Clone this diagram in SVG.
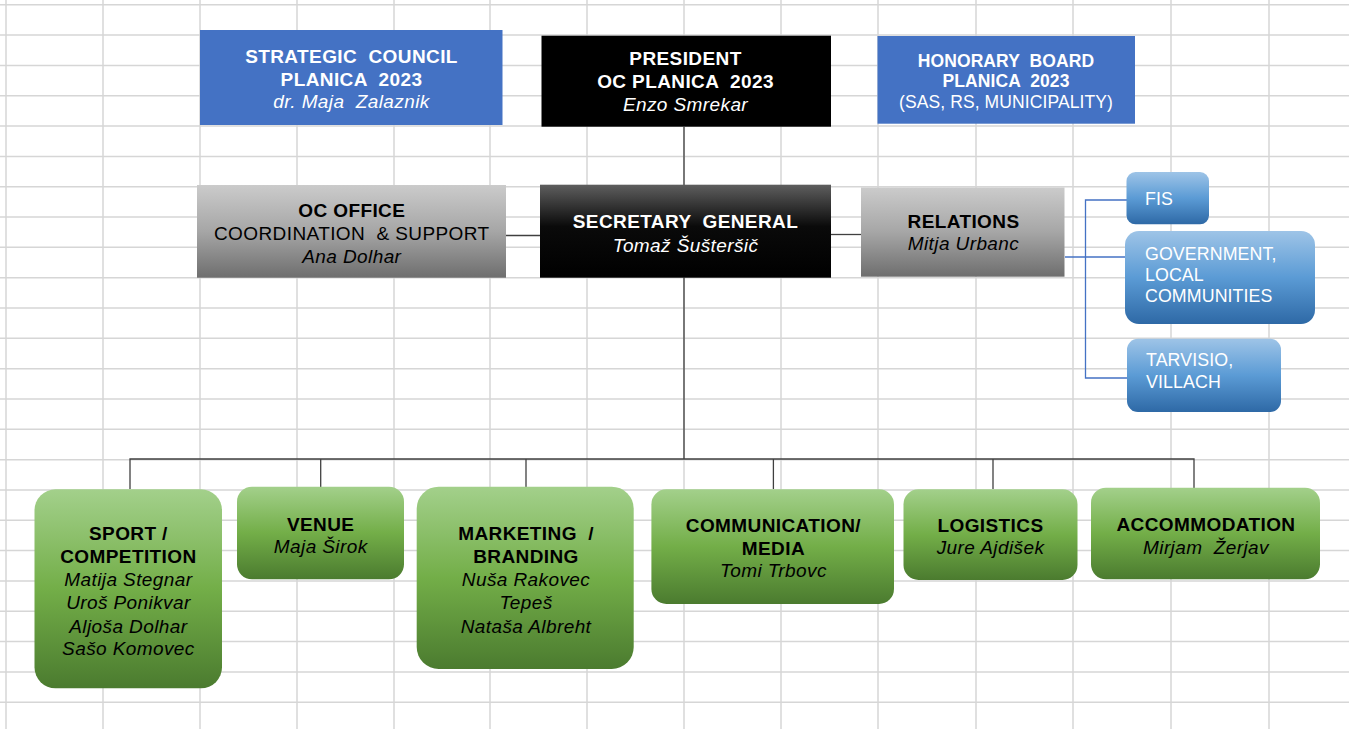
<svg xmlns="http://www.w3.org/2000/svg" width="1349" height="729" viewBox="0 0 1349 729">
<style>
text{font-family:"Liberation Sans",Arial,sans-serif;font-size:19px;white-space:pre;letter-spacing:0.4px;}
.c{text-anchor:middle;}
.b{font-weight:bold;}
.i{font-style:italic;}
.w{fill:#ffffff;}
.k{fill:#000000;}
.sm{font-size:17.5px;letter-spacing:0.1px;}
.bl{font-size:17.8px;fill:#ffffff;letter-spacing:0.1px;}
.grid line{stroke:#d6d6d6;stroke-width:1.5;}
.conn{fill:none;stroke:#404040;stroke-width:1.3;}
.rel{fill:none;stroke:#4472c4;stroke-width:1.3;}
</style>
<defs>
<linearGradient id="gGreen" x1="0" y1="0" x2="0" y2="1">
<stop offset="0" stop-color="#a3d08b"/>
<stop offset="0.5" stop-color="#73ae48"/>
<stop offset="1" stop-color="#4b7b2f"/>
</linearGradient>
<linearGradient id="gBlue" x1="0" y1="0" x2="0" y2="1">
<stop offset="0" stop-color="#9ec4e7"/>
<stop offset="0.5" stop-color="#5b9bd5"/>
<stop offset="1" stop-color="#2e69a6"/>
</linearGradient>
<linearGradient id="gGray" x1="0" y1="0" x2="0" y2="1">
<stop offset="0" stop-color="#cbcbcb"/>
<stop offset="0.5" stop-color="#a6a6a6"/>
<stop offset="1" stop-color="#6e6e6e"/>
</linearGradient>
<linearGradient id="gBlack" x1="0" y1="0" x2="0" y2="1">
<stop offset="0" stop-color="#5e5e5e"/>
<stop offset="0.45" stop-color="#0a0a0a"/>
<stop offset="1" stop-color="#000000"/>
</linearGradient>
</defs>
<rect x="0" y="0" width="1349" height="729" fill="#ffffff"/>
<g class="grid">
<line x1="6" y1="0" x2="6" y2="729"/>
<line x1="103" y1="0" x2="103" y2="729"/>
<line x1="200" y1="0" x2="200" y2="729"/>
<line x1="297" y1="0" x2="297" y2="729"/>
<line x1="394" y1="0" x2="394" y2="729"/>
<line x1="490" y1="0" x2="490" y2="729"/>
<line x1="587" y1="0" x2="587" y2="729"/>
<line x1="684" y1="0" x2="684" y2="729"/>
<line x1="781" y1="0" x2="781" y2="729"/>
<line x1="878" y1="0" x2="878" y2="729"/>
<line x1="976" y1="0" x2="976" y2="729"/>
<line x1="1073" y1="0" x2="1073" y2="729"/>
<line x1="1171" y1="0" x2="1171" y2="729"/>
<line x1="1269" y1="0" x2="1269" y2="729"/>
<line x1="0" y1="4.7" x2="1349" y2="4.7"/>
<line x1="0" y1="35" x2="1349" y2="35"/>
<line x1="0" y1="65.4" x2="1349" y2="65.4"/>
<line x1="0" y1="95.7" x2="1349" y2="95.7"/>
<line x1="0" y1="126" x2="1349" y2="126"/>
<line x1="0" y1="156.4" x2="1349" y2="156.4"/>
<line x1="0" y1="186.7" x2="1349" y2="186.7"/>
<line x1="0" y1="217" x2="1349" y2="217"/>
<line x1="0" y1="247.3" x2="1349" y2="247.3"/>
<line x1="0" y1="277.7" x2="1349" y2="277.7"/>
<line x1="0" y1="308" x2="1349" y2="308"/>
<line x1="0" y1="338.3" x2="1349" y2="338.3"/>
<line x1="0" y1="368.7" x2="1349" y2="368.7"/>
<line x1="0" y1="399" x2="1349" y2="399"/>
<line x1="0" y1="429.3" x2="1349" y2="429.3"/>
<line x1="0" y1="459.7" x2="1349" y2="459.7"/>
<line x1="0" y1="490" x2="1349" y2="490"/>
<line x1="0" y1="520.3" x2="1349" y2="520.3"/>
<line x1="0" y1="550.6" x2="1349" y2="550.6"/>
<line x1="0" y1="581" x2="1349" y2="581"/>
<line x1="0" y1="611.3" x2="1349" y2="611.3"/>
<line x1="0" y1="641.6" x2="1349" y2="641.6"/>
<line x1="0" y1="672" x2="1349" y2="672"/>
<line x1="0" y1="702.3" x2="1349" y2="702.3"/>
</g>
<g id="connectors">
<line class="conn" x1="684" y1="127" x2="684" y2="185" stroke="#000"/>
<line class="conn" x1="506" y1="235.5" x2="540" y2="235.5"/>
<line class="conn" x1="831" y1="234.5" x2="861" y2="234.5"/>
<line class="conn" x1="684" y1="277.5" x2="684" y2="459"/>
<polyline class="conn" points="130,489 130,459 1194,459 1194,488"/>
<line class="conn" x1="320.7" y1="459" x2="320.7" y2="487"/>
<line class="conn" x1="526" y1="459" x2="526" y2="487"/>
<line class="conn" x1="773.4" y1="459" x2="773.4" y2="489"/>
<line class="conn" x1="993" y1="459" x2="993" y2="489"/>
<line class="rel" x1="1065" y1="257" x2="1125" y2="257"/>
<polyline class="rel" points="1127,200 1085.5,200 1085.5,378 1129,378"/>
</g>
<g id="strategic-council">
<rect x="200" y="30" width="302.5" height="95" fill="#4472c4"/>
<text class="c b w" x="351.5" y="63.3">STRATEGIC  COUNCIL</text>
<text class="c b w" x="351.5" y="85.5">PLANICA  2023</text>
<text class="c i w" x="351.5" y="107.8">dr. Maja  Zalaznik</text>
</g>
<g id="president">
<rect x="541.5" y="35.7" width="289.5" height="91" fill="#000000"/>
<text class="c b w" x="685.5" y="65">PRESIDENT</text>
<text class="c b w" x="685.5" y="88.3">OC PLANICA  2023</text>
<text class="c i w" x="685.5" y="110.7">Enzo Smrekar</text>
</g>
<g id="honorary-board">
<rect x="877.5" y="36" width="257.5" height="87.7" fill="#4472c4"/>
<text class="c b w sm" x="1006" y="66.7">HONORARY  BOARD</text>
<text class="c b w sm" x="1006" y="86.7">PLANICA  2023</text>
<text class="c w sm" x="1006" y="108.3">(SAS, RS, MUNICIPALITY)</text>
</g>
<g id="oc-office">
<rect x="197" y="185" width="309" height="92.7" fill="url(#gGray)"/>
<text class="c b k" x="351.8" y="217.3">OC OFFICE</text>
<text class="c k" x="351.8" y="240">COORDINATION  &amp; SUPPORT</text>
<text class="c i k" x="351.8" y="263.3">Ana Dolhar</text>
</g>
<g id="secretary-general">
<rect x="540" y="184.7" width="291" height="93" fill="url(#gBlack)"/>
<text class="c b w" x="685.5" y="228.3">SECRETARY  GENERAL</text>
<text class="c i w" x="685.5" y="251.7">Tomaž Šušteršič</text>
</g>
<g id="relations">
<rect x="861" y="187.5" width="203.5" height="89.2" fill="url(#gGray)"/>
<text class="c b k" x="963.5" y="227.7">RELATIONS</text>
<text class="c i k" x="963.5" y="250.3">Mitja Urbanc</text>
</g>
<g id="fis">
<rect x="1126.5" y="172" width="82.5" height="52.3" rx="9" fill="url(#gBlue)"/>
<text class="bl" x="1145" y="205">FIS</text>
</g>
<g id="government">
<rect x="1125" y="231" width="190" height="93" rx="14" fill="url(#gBlue)"/>
<text class="bl" x="1145" y="260">GOVERNMENT,</text>
<text class="bl" x="1145" y="281">LOCAL</text>
<text class="bl" x="1145" y="301.7">COMMUNITIES</text>
</g>
<g id="tarvisio">
<rect x="1127" y="338.7" width="154" height="73.3" rx="11" fill="url(#gBlue)"/>
<text class="bl" x="1146" y="366">TARVISIO,</text>
<text class="bl" x="1146" y="387.7">VILLACH</text>
</g>
<g id="sport">
<rect x="34.5" y="489.3" width="187.5" height="199" rx="21" fill="url(#gGreen)"/>
<text class="c b k" x="128.4" y="540">SPORT /</text>
<text class="c b k" x="128.4" y="563">COMPETITION</text>
<text class="c i k" x="128.4" y="586">Matija Stegnar</text>
<text class="c i k" x="128.4" y="609">Uroš Ponikvar</text>
<text class="c i k" x="128.4" y="632.5">Aljoša Dolhar</text>
<text class="c i k" x="128.4" y="655">Sašo Komovec</text>
</g>
<g id="venue">
<rect x="237" y="486.7" width="167" height="92.6" rx="15" fill="url(#gGreen)"/>
<text class="c b k" x="320.7" y="530.7">VENUE</text>
<text class="c i k" x="320.7" y="553.3">Maja Širok</text>
</g>
<g id="marketing">
<rect x="416.7" y="486.7" width="217" height="182.3" rx="22" fill="url(#gGreen)"/>
<text class="c b k" x="526" y="540">MARKETING  /</text>
<text class="c b k" x="526" y="563">BRANDING</text>
<text class="c i k" x="526" y="586">Nuša Rakovec</text>
<text class="c i k" x="526" y="609">Tepeš</text>
<text class="c i k" x="526" y="632.5">Nataša Albreht</text>
</g>
<g id="communication">
<rect x="651.4" y="489.3" width="242.6" height="114.7" rx="15" fill="url(#gGreen)"/>
<text class="c b k" x="773.4" y="531.7">COMMUNICATION/</text>
<text class="c b k" x="773.4" y="555">MEDIA</text>
<text class="c i k" x="773.4" y="577">Tomi Trbovc</text>
</g>
<g id="logistics">
<rect x="903.5" y="489.3" width="174" height="90.7" rx="15" fill="url(#gGreen)"/>
<text class="c b k" x="990.5" y="531.7">LOGISTICS</text>
<text class="c i k" x="990.5" y="554.3">Jure Ajdišek</text>
</g>
<g id="accommodation">
<rect x="1091" y="487.7" width="229" height="91.6" rx="15" fill="url(#gGreen)"/>
<text class="c b k" x="1206" y="530.7">ACCOMMODATION</text>
<text class="c i k" x="1206" y="554.3">Mirjam  Žerjav</text>
</g>
</svg>
